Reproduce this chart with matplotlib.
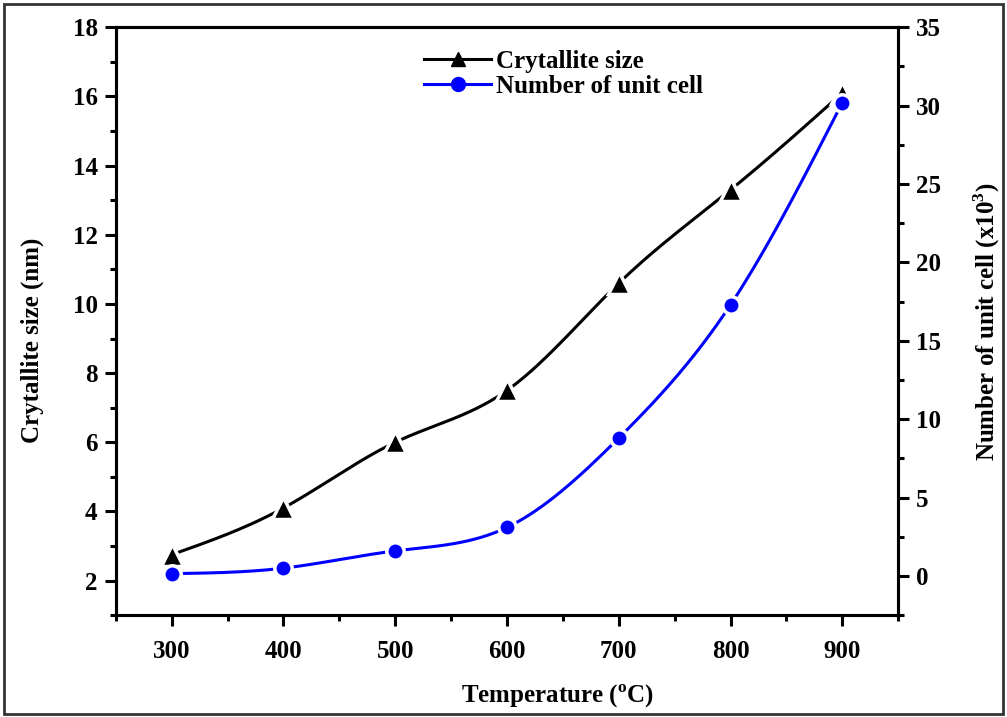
import numpy as np
import matplotlib.pyplot as plt
from matplotlib.patches import Rectangle
from matplotlib.ticker import MultipleLocator

plt.rcParams['font.family'] = ['Liberation Serif', 'DejaVu Serif']
plt.rcParams['font.weight'] = 'bold'
plt.rcParams['mathtext.fontset'] = 'custom'
plt.rcParams['mathtext.rm'] = 'Liberation Serif:bold'

temperature = [300, 400, 500, 600, 700, 800, 900]
crystallite_size = [2.75, 4.1, 6.0, 7.5, 10.6, 13.3, 16.1]
unit_cells = [0.15, 0.5, 1.6, 3.1, 8.8, 17.3, 30.2]


def natural_spline(x, y, n=300):
    # natural cubic spline through the points, used only for the smooth connecting line
    x = np.asarray(x, float)
    y = np.asarray(y, float)
    k = len(x)
    h = np.diff(x)
    A = np.zeros((k, k))
    b = np.zeros(k)
    A[0, 0] = A[-1, -1] = 1.0
    for i in range(1, k - 1):
        A[i, i - 1] = h[i - 1]
        A[i, i] = 2 * (h[i - 1] + h[i])
        A[i, i + 1] = h[i]
        b[i] = 6 * ((y[i + 1] - y[i]) / h[i] - (y[i] - y[i - 1]) / h[i - 1])
    M = np.linalg.solve(A, b)
    xs = np.linspace(x[0], x[-1], n)
    idx = np.clip(np.searchsorted(x, xs) - 1, 0, k - 2)
    x0, x1 = x[idx], x[idx + 1]
    hh = x1 - x0
    t0, t1 = x1 - xs, xs - x0
    ys = (M[idx] * t0 ** 3 + M[idx + 1] * t1 ** 3) / (6 * hh) \
        + (y[idx] / hh - M[idx] * hh / 6) * t0 + (y[idx + 1] / hh - M[idx + 1] * hh / 6) * t1
    return xs, ys


fig = plt.figure(figsize=(10.07, 7.17), dpi=100)
ax = fig.add_axes([0.115, 0.142, 0.777, 0.82])
ax2 = ax.twinx()

xs, ys = natural_spline(temperature, crystallite_size)
ax.plot(xs, ys, color='black', lw=2.2, zorder=2)
ax.plot(temperature, crystallite_size, ls='none', marker='^', ms=16, color='black',
        markeredgecolor='white', markeredgewidth=2.5, zorder=3)

xs2, ys2 = natural_spline(temperature, unit_cells)
ax2.plot(xs2, ys2, color='blue', lw=2.2, zorder=2)
ax2.plot(temperature, unit_cells, ls='none', marker='o', ms=12.5, color='blue',
         markeredgecolor='white', markeredgewidth=2.5, zorder=3)

ax.set_xlim(250, 950)
ax.set_ylim(1.0, 18)
ax2.set_ylim(-2.5, 35)

ax.xaxis.set_major_locator(MultipleLocator(100))
ax.xaxis.set_minor_locator(MultipleLocator(50))
ax.yaxis.set_major_locator(MultipleLocator(2))
ax.yaxis.set_minor_locator(MultipleLocator(1))
ax.set_yticks([2, 4, 6, 8, 10, 12, 14, 16, 18])
ax2.yaxis.set_major_locator(MultipleLocator(5))
ax2.yaxis.set_minor_locator(MultipleLocator(2.5))
ax2.set_yticks([0, 5, 10, 15, 20, 25, 30, 35])

for a in (ax, ax2):
    for s in a.spines.values():
        s.set_linewidth(2.2)
    a.tick_params(which='major', direction='out', length=8, width=2.2, labelsize=18, pad=5)
    a.tick_params(which='minor', direction='out', length=4.5, width=2.2)
ax.tick_params(axis='x', pad=10)
ax.tick_params(top=False, which='both')

ax.set_xlabel('Temperature ($^{\\mathrm{o}}$C)', fontsize=18, fontweight='bold')
ax.set_ylabel('Crytallite size (nm)', fontsize=18, fontweight='bold')
ax2.set_ylabel('Number of unit cell (x10$^{3}$)', fontsize=18, fontweight='bold')
ax.xaxis.set_label_coords(0.565, -0.115)
ax.yaxis.set_label_coords(-0.092, 0.468)
ax2.yaxis.set_label_coords(1.093, 0.5)

handles = [
    plt.Line2D([], [], color='black', lw=2.2, marker='^', ms=10),
    plt.Line2D([], [], color='blue', lw=2.2, marker='o', ms=10),
]
ax.legend(handles, ['Crytallite size', 'Number of unit cell'], loc='upper left',
          bbox_to_anchor=(0.365, 1.0), frameon=False, fontsize=18,
          handlelength=2.7, handletextpad=0.2, labelspacing=0.1)

fig.patches.append(Rectangle((0.004, 0.004), 0.992, 0.99, transform=fig.transFigure,
                             fill=False, edgecolor='#333333', lw=2.0))

fig.savefig('out.png', dpi=100)
